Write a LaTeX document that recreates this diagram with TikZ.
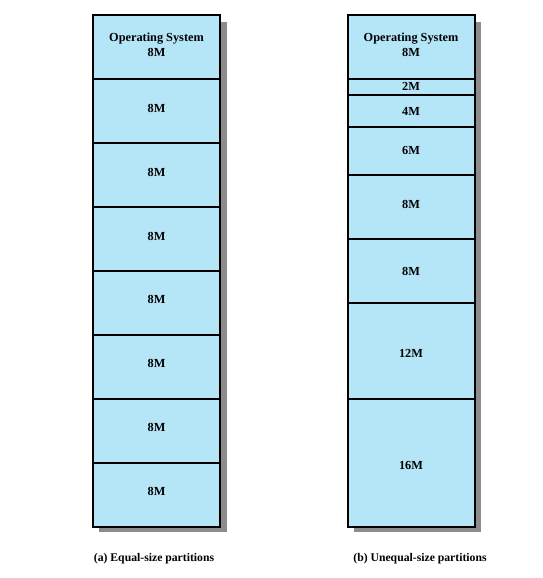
\documentclass[tikz,border=0pt]{standalone}
\usepackage{fontspec}
\setmainfont{Liberation Serif}

\definecolor{partfill}{RGB}{180,230,248}
\definecolor{partshadow}{RGB}{140,140,140}

\tikzset{
    partition/.style={draw=black, line width=2pt, fill=partfill},
    partlabel/.style={font=\bfseries\fontsize{12.3}{15}\selectfont, align=center, inner sep=0pt},
    caption/.style={font=\bfseries\fontsize{11.7}{13}\selectfont, inner sep=0pt}
}

% left edges of the two memory columns, and their width
\def\cola{93}
\def\colb{348}
\def\colw{127}

\begin{document}
\begin{tikzpicture}[x=1pt,y=-1pt]
    \useasboundingbox (0,0) rectangle (542,578);
    % First the drop shadows, so the columns are drawn over them
    \fill[partshadow] (99,22) rectangle (227,532);
    \fill[partshadow] (354,22) rectangle (481,532);
    % (a) equal-size: eight partitions of 8M each (8px per M)
    \foreach \top in {15,79,143,207,271,335,399,463} {
        \draw[partition] (\cola,\top) rectangle +(\colw,64);
    }
    % (b) unequal-size: top/height of every partition
    \foreach \top/\h in {15/64,79/16,95/32,127/48,175/64,239/64,303/96,399/128} {
        \draw[partition] (\colb,\top) rectangle +(\colw,\h);
    }
    % Then the labels
    \node[partlabel] (eqos) at (156.5,44.5) {Operating System\\8M};
    \foreach \y [count=\i] in {108,172,236,299,363,427,491} {
        \node[partlabel] (eq\i) at (156.5,\y) {8M};
    }
    \node[partlabel] (uneqos) at (411,44.5) {Operating System\\8M};
    \foreach \y/\t [count=\i] in {86/2M,111/4M,150/6M,204/8M,271/8M,353/12M,465/16M} {
        \node[partlabel] (uneq\i) at (411,\y) {\t};
    }
    % captions below the columns
    \node[caption] (capa) at (154,559) {(a) Equal-size partitions};
    \node[caption] (capb) at (420,559) {(b) Unequal-size partitions};
\end{tikzpicture}
\end{document}
